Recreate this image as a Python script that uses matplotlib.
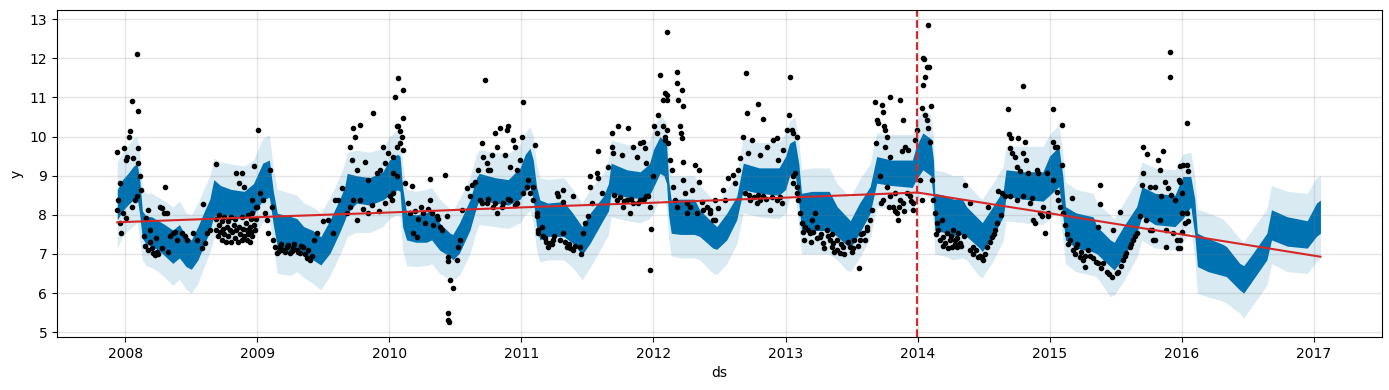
import numpy as np
import pandas as pd
import matplotlib
matplotlib.use("Agg")
import matplotlib.pyplot as plt
import matplotlib.dates as mdates

# forecast envelope (decimal years)
fc_t = [2007.94, 2007.98, 2008.02, 2008.06, 2008.09, 2008.11, 2008.13, 2008.16, 2008.20, 2008.25,
        2008.30, 2008.36, 2008.41, 2008.46, 2008.50, 2008.55, 2008.60, 2008.64, 2008.67, 2008.72,
        2008.80, 2008.90, 2008.97, 2009.04, 2009.09, 2009.12, 2009.15, 2009.25, 2009.30, 2009.35,
        2009.42, 2009.48, 2009.55, 2009.62, 2009.66, 2009.68, 2009.75, 2009.85, 2009.95, 2010.00,
        2010.06, 2010.08, 2010.10, 2010.13, 2010.20, 2010.28, 2010.32, 2010.38, 2010.46, 2010.48,
        2010.53, 2010.61, 2010.66, 2010.68, 2010.80, 2010.90, 2010.99, 2011.03, 2011.065, 2011.09,
        2011.115, 2011.14, 2011.20, 2011.32, 2011.39, 2011.46, 2011.52, 2011.62, 2011.66, 2011.68,
        2011.80, 2011.90, 2011.97, 2012.00, 2012.05, 2012.08, 2012.10, 2012.115, 2012.135, 2012.20,
        2012.31, 2012.35, 2012.45, 2012.48, 2012.555, 2012.63, 2012.68, 2012.80, 2012.95, 2013.00,
        2013.03, 2013.07, 2013.10, 2013.12, 2013.20, 2013.33, 2013.39, 2013.46, 2013.49, 2013.56,
        2013.64, 2013.69, 2013.80, 2013.96, 2013.99, 2014.04, 2014.10, 2014.12, 2014.13, 2014.20,
        2014.27, 2014.34, 2014.37, 2014.47, 2014.49, 2014.57, 2014.65, 2014.67, 2014.80, 2014.95,
        2015.00, 2015.07, 2015.10, 2015.12, 2015.20, 2015.33, 2015.36, 2015.46, 2015.49, 2015.56,
        2015.66, 2015.70, 2015.80, 2015.95, 2016.01, 2016.07, 2016.10, 2016.12, 2016.20, 2016.31,
        2016.34, 2016.44, 2016.47, 2016.54, 2016.645, 2016.68, 2016.80, 2016.95, 2017.02, 2017.05]
yhat_lo = [7.87, 8.10, 8.25, 8.38, 8.45, 8.00, 7.40, 7.25, 7.20, 7.10,
           6.95, 6.76, 6.90, 6.68, 6.61, 6.85, 7.25, 7.60, 7.96, 8.00,
           7.95, 7.90, 8.00, 8.38, 8.45, 7.75, 7.19, 7.05, 7.15, 7.02,
           6.85, 6.72, 7.02, 7.53, 7.85, 8.04, 8.30, 8.25, 8.38, 8.50,
           8.64, 8.60, 7.70, 7.36, 7.30, 7.30, 7.36, 7.10, 6.93, 6.85,
           7.02, 7.61, 8.20, 8.38, 8.30, 8.25, 8.40, 8.60, 8.72, 8.40,
           7.70, 7.36, 7.45, 7.45, 7.27, 6.98, 7.27, 7.87, 8.10, 8.55,
           8.45, 8.42, 8.50, 8.70, 9.06, 9.00, 8.80, 8.00, 7.53, 7.50,
           7.50, 7.45, 7.15, 7.12, 7.36, 7.87, 8.64, 8.55, 8.50, 8.65,
           9.00, 9.10, 8.30, 7.61, 7.60, 7.60, 7.45, 7.23, 7.15, 7.53,
           8.04, 8.81, 8.75, 8.70, 8.90, 9.15, 9.00, 8.40, 7.61, 7.55,
           7.45, 7.50, 7.45, 7.15, 7.06, 7.45, 7.96, 8.47, 8.40, 8.35,
           8.50, 8.72, 8.00, 7.36, 7.15, 7.05, 7.00, 6.68, 6.59, 6.90,
           7.53, 7.96, 7.75, 7.70, 7.90, 8.20, 7.50, 6.68, 6.55, 6.45,
           6.42, 6.08, 6.00, 6.34, 6.85, 7.36, 7.20, 7.15, 7.45, 7.53]
yhat_hi = [8.64, 8.90, 9.05, 9.23, 9.32, 8.90, 8.10, 7.96, 7.95, 7.85,
           7.75, 7.61, 7.75, 7.44, 7.36, 7.70, 8.10, 8.40, 8.90, 8.75,
           8.65, 8.60, 8.80, 9.32, 9.40, 8.60, 8.04, 7.96, 7.90, 7.70,
           7.60, 7.44, 7.87, 8.38, 8.70, 9.06, 9.00, 8.95, 9.10, 9.40,
           9.55, 9.50, 8.70, 8.04, 8.00, 8.05, 8.13, 7.79, 7.53, 7.50,
           7.79, 8.38, 8.95, 9.06, 8.95, 8.90, 9.20, 9.55, 9.70, 9.40,
           8.72, 8.38, 8.30, 8.34, 8.04, 7.70, 8.04, 8.47, 8.80, 9.32,
           9.15, 9.10, 9.30, 9.66, 10.00, 9.90, 9.80, 8.90, 8.38, 8.40,
           8.40, 8.13, 7.79, 7.70, 8.04, 8.47, 9.32, 9.20, 9.20, 9.50,
           9.83, 9.91, 9.30, 8.55, 8.60, 8.60, 8.21, 7.96, 7.85, 8.30,
           8.72, 9.49, 9.40, 9.40, 9.75, 10.09, 9.95, 9.40, 8.55, 8.50,
           8.40, 8.40, 8.21, 7.87, 7.80, 8.21, 8.64, 9.15, 9.10, 9.10,
           9.50, 9.74, 9.00, 8.21, 8.05, 7.95, 7.70, 7.36, 7.30, 7.70,
           8.21, 8.72, 8.55, 8.50, 8.98, 8.98, 8.40, 7.53, 7.40, 7.25,
           7.19, 6.76, 6.70, 7.02, 7.53, 8.13, 7.95, 7.85, 8.30, 8.38]
band_lo = [7.15, 7.45, 7.60, 7.70, 7.80, 7.35, 6.85, 6.70, 6.65, 6.55,
           6.40, 6.20, 6.35, 6.10, 6.00, 6.25, 6.70, 7.05, 7.40, 7.40,
           7.35, 7.30, 7.40, 7.80, 7.85, 7.20, 6.50, 6.45, 6.55, 6.40,
           6.25, 6.08, 6.45, 6.95, 7.25, 7.45, 7.55, 7.55, 7.70, 7.90,
           8.00, 7.95, 7.10, 6.70, 6.68, 6.70, 6.75, 6.50, 6.35, 6.34,
           6.45, 7.00, 7.60, 7.75, 7.70, 7.65, 7.80, 8.00, 8.10, 7.80,
           7.10, 6.80, 6.85, 6.85, 6.65, 6.34, 6.65, 7.25, 7.50, 7.95,
           7.85, 7.80, 7.90, 8.05, 8.40, 8.35, 8.20, 7.40, 6.95, 6.90,
           6.90, 6.85, 6.51, 6.48, 6.75, 7.25, 8.05, 7.95, 7.90, 8.05,
           8.40, 8.50, 7.70, 7.00, 7.00, 7.00, 6.85, 6.59, 6.55, 6.90,
           7.40, 8.20, 8.15, 8.10, 8.30, 8.55, 8.40, 7.80, 7.00, 6.95,
           6.85, 6.90, 6.85, 6.42, 6.40, 6.80, 7.35, 7.85, 7.80, 7.75,
           7.90, 8.10, 7.40, 6.75, 6.55, 6.45, 6.40, 5.91, 5.95, 6.30,
           6.90, 7.35, 7.15, 7.10, 7.30, 7.60, 6.90, 6.00, 5.90, 5.80,
           5.74, 5.49, 5.36, 5.70, 6.20, 6.75, 6.55, 6.50, 6.80, 6.90]
band_hi = [9.36, 9.60, 9.75, 9.96, 10.00, 9.55, 8.70, 8.55, 8.55, 8.45,
           8.35, 8.20, 8.35, 8.05, 8.00, 8.30, 8.70, 9.00, 9.45, 9.35,
           9.30, 9.25, 9.40, 9.95, 10.05, 9.20, 8.65, 8.55, 8.50, 8.30,
           8.20, 8.05, 8.45, 8.95, 9.30, 9.60, 9.65, 9.60, 9.70, 10.00,
           10.17, 10.10, 9.30, 8.65, 8.60, 8.65, 8.70, 8.40, 8.15, 8.10,
           8.40, 8.95, 9.55, 9.66, 9.60, 9.55, 9.80, 10.10, 10.25, 10.00,
           9.30, 8.95, 8.90, 8.95, 8.65, 8.30, 8.65, 9.05, 9.40, 9.91,
           9.80, 9.75, 9.90, 10.20, 10.55, 10.45, 10.35, 9.50, 9.00, 9.00,
           9.00, 8.75, 8.40, 8.30, 8.65, 9.05, 9.95, 9.85, 9.85, 10.10,
           10.40, 10.50, 9.90, 9.15, 9.20, 9.20, 8.80, 8.55, 8.45, 8.90,
           9.30, 10.10, 10.05, 10.05, 10.35, 10.70, 10.55, 10.00, 9.15, 9.10,
           9.00, 9.00, 8.80, 8.45, 8.40, 8.80, 9.25, 9.75, 9.75, 9.75,
           10.05, 10.30, 9.60, 8.85, 8.65, 8.55, 8.30, 8.00, 7.90, 8.30,
           8.85, 9.35, 9.20, 9.15, 9.55, 9.60, 9.00, 8.15, 8.05, 7.90,
           7.80, 7.40, 7.30, 7.65, 8.15, 8.75, 8.60, 8.55, 8.95, 9.00]

# piecewise trend
trend_t = [2007.94, 2009.0, 2010.0, 2011.0, 2012.0, 2013.0, 2014.0, 2015.0, 2016.0, 2017.05]
trend_y = [7.81, 7.94, 8.06, 8.19, 8.31, 8.44, 8.57, 8.04, 7.50, 6.93]
changepoint = "2013-12-30"

# visible observations (decimal year, value)
observed = [
    # 2008
    (2007.935, 9.60), (2007.96, 8.82), (2007.99, 9.70), (2008.005, 9.40), (2008.015, 9.49),
    (2008.03, 10.0), (2008.035, 10.14), (2008.053, 10.91), (2008.06, 9.45), (2008.09, 12.10),
    (2008.10, 10.65), (2008.094, 9.70), (2008.10, 9.32), (2008.11, 8.98), (2008.117, 8.64),
    (2007.967, 7.53), (2007.96, 7.79), (2008.01, 7.91), (2008.05, 8.21), (2008.073, 8.38),
    (2008.086, 8.47), (2007.94, 8.13), (2007.947, 8.38), (2007.985, 8.04),
    (2008.16, 7.91), (2008.174, 8.13), (2008.187, 7.62), (2008.20, 7.15), (2008.21, 7.02),
    (2008.225, 6.98), (2008.24, 7.06), (2008.263, 8.21), (2008.276, 8.17), (2008.29, 8.04),
    (2008.30, 8.71), (2008.313, 8.04), (2008.326, 7.06), (2008.363, 7.53), (2008.39, 7.36),
    (2008.427, 7.53), (2008.465, 7.36), (2008.515, 7.53), (2008.54, 7.36), (2008.58, 7.15),
    (2008.59, 8.28), (2008.60, 7.27), (2008.616, 7.53), (2008.64, 7.62), (2008.69, 9.30),
    (2008.14, 7.45), (2008.15, 7.20), (2008.17, 7.10), (2008.19, 7.30), (2008.23, 7.40),
    (2008.25, 7.00), (2008.28, 7.15), (2008.34, 7.45), (2008.38, 7.55), (2008.45, 7.45),
    (2008.69, 7.62), (2008.69, 7.90), (2008.70, 7.45), (2008.71, 7.75), (2008.71, 8.00),
    (2008.72, 7.55), (2008.73, 7.35), (2008.73, 7.85), (2008.74, 7.65), (2008.75, 7.50),
    (2008.75, 7.95), (2008.76, 7.30), (2008.77, 7.70), (2008.78, 7.45), (2008.78, 7.85),
    (2008.79, 7.60), (2008.80, 7.30), (2008.80, 7.95), (2008.81, 7.55), (2008.82, 7.75),
    (2008.83, 7.40), (2008.83, 7.90), (2008.84, 7.60), (2008.84, 9.06), (2008.85, 7.30),
    (2008.86, 7.70), (2008.86, 8.82), (2008.87, 7.50), (2008.88, 7.35), (2008.88, 7.95),
    (2008.88, 9.06), (2008.89, 7.65), (2008.90, 7.45), (2008.90, 8.72), (2008.91, 7.80),
    (2008.92, 7.35), (2008.92, 7.60), (2008.93, 7.50), (2008.93, 8.00), (2008.94, 7.70),
    (2008.94, 7.30), (2008.95, 7.55), (2008.95, 7.90), (2008.96, 7.45), (2008.97, 7.75),
    (2008.97, 9.25), (2008.98, 7.60), (2008.99, 7.90), (2008.99, 8.20),
    # 2009
    (2009.007, 10.17), (2008.957, 8.38), (2008.957, 8.04), (2008.995, 8.21), (2009.02, 8.55),
    (2009.045, 8.38), (2009.058, 8.04), (2009.071, 7.87), (2009.083, 7.53), (2009.096, 9.15),
    (2009.109, 8.21), (2009.121, 7.36), (2009.134, 7.19), (2009.147, 7.02), (2009.171, 7.19),
    (2009.197, 7.10), (2009.222, 7.19), (2009.247, 7.02), (2009.272, 7.15), (2009.298, 7.10),
    (2009.323, 7.02), (2009.348, 7.19), (2009.374, 6.89), (2009.399, 6.85), (2009.449, 7.53),
    (2009.16, 7.08), (2009.18, 7.25), (2009.21, 7.05), (2009.23, 7.22), (2009.26, 7.08),
    (2009.28, 7.25), (2009.31, 7.05), (2009.33, 7.20), (2009.36, 7.00), (2009.38, 7.10),
    (2009.41, 6.95), (2009.43, 7.35),
    (2009.499, 7.83), (2009.537, 7.87), (2009.575, 7.53), (2009.588, 8.38), (2009.613, 8.38),
    (2009.639, 8.68), (2009.677, 8.04), (2009.702, 9.74), (2009.727, 10.21), (2009.739, 10.0),
    (2009.777, 10.30), (2009.714, 9.40), (2009.752, 9.15), (2009.815, 9.36), (2009.84, 8.89),
    (2009.878, 10.60), (2009.904, 9.06), (2009.929, 9.15), (2009.954, 9.74), (2009.967, 9.32),
    (2009.992, 9.57), (2010.005, 8.47), (2010.03, 9.06), (2010.055, 10.26),
    (2009.702, 8.21), (2009.752, 7.87), (2009.84, 8.04), (2009.777, 8.38), (2009.727, 8.38),
    (2009.80, 8.15), (2009.87, 8.25), (2009.92, 8.10), (2009.97, 8.30),
    # 2010
    (2010.067, 11.49), (2010.042, 11.02), (2010.105, 11.19), (2010.105, 10.47), (2010.067, 10.26),
    (2010.080, 10.13), (2010.093, 10.0), (2010.080, 9.83), (2010.055, 9.74), (2010.105, 9.66),
    (2010.030, 9.49), (2010.055, 8.98), (2010.118, 8.81), (2010.030, 8.55), (2010.017, 8.38),
    (2010.143, 8.30), (2010.169, 8.74), (2010.156, 8.04), (2010.181, 7.53), (2010.207, 7.44),
    (2010.19, 8.10), (2010.22, 7.90), (2010.24, 8.20), (2010.27, 7.80), (2010.29, 8.15),
    (2010.33, 7.75), (2010.37, 7.90), (2010.40, 7.60),
    (2010.257, 8.04), (2010.307, 8.91), (2010.307, 8.38), (2010.320, 8.04), (2010.358, 7.96),
    (2010.383, 7.70), (2010.421, 9.02), (2010.434, 7.96), (2010.446, 6.93), (2010.446, 6.81),
    (2010.459, 6.34), (2010.484, 6.12), (2010.446, 5.49), (2010.446, 5.32), (2010.454, 5.27),
    (2010.510, 6.85), (2010.522, 7.19), (2010.535, 7.36), (2010.547, 8.13), (2010.585, 8.68),
    (2010.610, 8.47), (2010.623, 8.76), (2010.648, 8.85), (2010.673, 9.15), (2010.699, 9.83),
    (2010.711, 9.49), (2010.724, 11.45), (2010.737, 9.32), (2010.749, 9.15), (2010.762, 9.15),
    (2010.775, 9.53), (2010.800, 10.09), (2010.813, 9.74), (2010.838, 10.21), (2010.875, 9.53),
    (2010.888, 10.17), (2010.900, 10.26), (2010.913, 9.23), (2010.938, 9.91), (2010.951, 9.74),
    (2010.964, 9.15), (2010.989, 9.40), (2011.002, 10.0), (2011.014, 10.89), (2011.040, 8.72),
    (2011.052, 8.89), (2011.065, 8.55), (2011.090, 8.38), (2011.103, 9.79), (2011.116, 7.96),
    (2011.128, 7.62), (2010.686, 8.38), (2010.737, 8.30), (2010.787, 8.21), (2010.813, 8.04),
    (2010.863, 8.30), (2010.913, 8.38), (2010.964, 8.30), (2011.014, 8.55),
    (2010.70, 8.30), (2010.75, 8.40), (2010.80, 8.30), (2010.85, 8.20), (2010.90, 8.40),
    (2010.95, 8.25),
    # 2011
    (2011.090, 8.72), (2011.116, 8.04), (2011.128, 7.53), (2011.153, 7.70), (2011.178, 7.40),
    (2011.203, 7.19), (2011.216, 7.27), (2011.241, 7.36), (2011.267, 8.55), (2011.279, 8.47),
    (2011.317, 8.64), (2011.317, 8.34), (2011.317, 7.53), (2011.342, 7.19), (2011.368, 7.15),
    (2011.393, 8.47), (2011.393, 7.10), (2011.443, 7.19), (2011.468, 7.53), (2011.481, 7.79),
    (2011.16, 7.45), (2011.19, 7.30), (2011.23, 7.25), (2011.25, 7.45), (2011.29, 7.35),
    (2011.33, 7.30), (2011.36, 7.25), (2011.41, 7.20), (2011.45, 7.00),
    (2011.506, 7.96), (2011.519, 8.98), (2011.519, 8.72), (2011.532, 8.30), (2011.570, 9.06),
    (2011.582, 8.94), (2011.582, 9.62), (2011.608, 8.55), (2011.658, 9.23), (2011.683, 10.09),
    (2011.683, 9.74), (2011.696, 9.57), (2011.733, 10.26), (2011.759, 9.53), (2011.809, 10.21),
    (2011.847, 9.74), (2011.873, 9.49), (2011.898, 9.83), (2011.923, 9.87), (2011.936, 9.70),
    (2011.948, 9.32), (2011.961, 8.47), (2011.974, 8.21), (2011.986, 7.63), (2011.974, 6.59),
    (2011.999, 8.98), (2012.004, 10.26), (2012.024, 10.09), (2012.036, 10.55), (2012.049, 11.58),
    (2012.074, 10.94), (2012.087, 11.11), (2012.100, 12.67), (2012.070, 10.26), (2012.087, 10.0),
    (2011.721, 8.38), (2011.771, 8.21), (2011.822, 8.04), (2011.847, 8.30), (2011.898, 8.38),
    (2011.948, 8.47), (2011.797, 8.38), (2011.70, 8.50), (2011.75, 8.45), (2011.78, 8.35),
    (2011.83, 8.40), (2011.88, 8.30), (2011.93, 8.40),
    # 2012
    (2012.100, 11.06), (2012.100, 10.94), (2012.100, 10.17), (2012.087, 9.91), (2012.112, 9.83),
    (2012.125, 9.40), (2012.138, 9.15), (2012.150, 8.72), (2012.163, 8.38), (2012.176, 8.21),
    (2012.180, 11.66), (2012.180, 11.36), (2012.188, 10.94), (2012.214, 11.19), (2012.221, 10.77),
    (2012.201, 10.26), (2012.206, 10.09), (2012.214, 9.96), (2012.226, 9.36), (2012.226, 8.89),
    (2012.239, 8.55), (2012.252, 8.30), (2012.252, 8.04), (2012.289, 8.64), (2012.314, 9.28),
    (2012.347, 9.15), (2012.347, 8.85), (2012.365, 8.34), (2012.403, 8.21), (2012.428, 8.13),
    (2012.466, 8.38), (2012.466, 7.87), (2012.491, 8.17), (2012.529, 8.64), (2012.541, 8.38),
    (2012.566, 8.94), (2012.604, 9.02), (2012.617, 8.81), (2012.642, 9.15), (2012.655, 9.45),
    (2012.680, 10.0), (2012.700, 11.62), (2012.710, 10.60), (2012.718, 9.57), (2012.744, 9.91),
    (2012.794, 10.83), (2012.807, 9.53), (2012.827, 10.44), (2012.857, 9.74), (2012.907, 9.91),
    (2012.933, 9.96), (2012.945, 9.40), (2012.983, 9.66), (2013.009, 10.17), (2013.034, 11.52),
    (2013.028, 10.55), (2012.693, 8.55), (2012.731, 8.38), (2012.781, 8.30), (2012.807, 8.38),
    (2012.831, 8.47), (2012.882, 8.13), (2012.933, 8.38), (2012.971, 8.30), (2013.059, 8.98),
    (2013.084, 8.72), (2013.097, 8.38), (2013.109, 8.04), (2012.276, 8.21), (2012.327, 8.04),
    (2012.377, 8.13), (2012.428, 8.04), (2012.453, 7.87), (2012.72, 8.50), (2012.76, 8.45),
    (2012.79, 8.50), (2012.85, 8.40), (2012.90, 8.45), (2012.96, 8.45),
    # 2013
    (2013.047, 10.17), (2013.059, 10.09), (2013.084, 10.0), (2013.072, 9.06), (2013.059, 8.81),
    (2013.084, 8.55), (2013.122, 7.79), (2013.147, 7.70), (2013.185, 7.53), (2013.197, 7.87),
    (2013.223, 8.04), (2013.236, 7.70), (2013.261, 7.44), (2013.286, 7.27), (2013.312, 7.62),
    (2013.337, 7.36), (2013.349, 7.19), (2013.362, 7.27), (2013.387, 7.10), (2013.412, 7.02),
    (2013.437, 7.19), (2013.488, 7.19), (2013.513, 7.15), (2013.558, 6.64), (2013.564, 7.36),
    (2013.13, 7.55), (2013.14, 7.35), (2013.17, 7.60), (2013.19, 7.30), (2013.21, 7.55),
    (2013.24, 7.40), (2013.27, 7.50), (2013.29, 7.15), (2013.32, 7.45), (2013.35, 7.50),
    (2013.37, 7.05), (2013.39, 7.35), (2013.42, 7.25), (2013.44, 7.00), (2013.47, 7.30),
    (2013.50, 7.05), (2013.52, 7.35), (2013.55, 7.20), (2013.57, 7.50), (2013.60, 7.35),
    (2013.62, 7.70),
    (2013.589, 7.53), (2013.614, 7.62), (2013.639, 7.87), (2013.651, 8.13), (2013.677, 10.89),
    (2013.694, 10.43), (2013.702, 10.34), (2013.685, 9.83), (2013.715, 8.98), (2013.728, 10.81),
    (2013.736, 10.64), (2013.746, 10.26), (2013.753, 10.17), (2013.766, 10.0), (2013.753, 9.74),
    (2013.791, 11.02), (2013.791, 9.49), (2013.829, 8.55), (2013.842, 8.04), (2013.854, 7.87),
    (2013.867, 10.94), (2013.880, 9.62), (2013.892, 10.43), (2013.905, 9.74), (2013.930, 9.66),
    (2013.943, 8.47), (2013.968, 8.30), (2013.968, 8.13), (2013.980, 9.91), (2013.993, 10.17),
    (2014.031, 10.72), (2014.043, 12.0), (2014.039, 11.32), (2014.056, 11.53), (2014.069, 11.79),
    (2014.081, 12.85), (2013.740, 8.38), (2013.791, 8.47), (2013.816, 8.21), (2013.867, 8.38),
    (2013.892, 8.30), (2013.918, 8.55), (2013.766, 8.72), (2013.72, 8.30), (2013.78, 8.20),
    (2013.83, 8.10), (2013.86, 8.20), (2013.90, 8.10), (2013.95, 8.35),
    # 2014
    (2014.047, 11.98), (2014.089, 11.77), (2014.099, 10.77), (2014.056, 10.55), (2014.069, 10.43),
    (2014.081, 10.21), (2014.094, 9.87), (2014.018, 8.89), (2014.031, 8.38), (2014.107, 8.89),
    (2014.119, 8.38), (2014.132, 8.04), (2014.145, 7.79), (2014.157, 7.62), (2014.182, 7.87),
    (2014.195, 7.44), (2014.208, 7.27), (2014.220, 7.53), (2014.245, 7.36), (2014.258, 7.19),
    (2014.271, 7.62), (2014.283, 7.36), (2014.296, 7.19), (2014.309, 7.53), (2014.321, 7.27),
    (2014.14, 7.50), (2014.17, 7.35), (2014.19, 7.20), (2014.23, 7.15), (2014.25, 7.45),
    (2014.28, 7.25), (2014.30, 7.40), (2014.33, 7.20), (2014.35, 7.45), (2014.42, 7.00),
    (2014.44, 7.10), (2014.47, 6.95), (2014.51, 7.00), (2014.55, 7.30), (2014.58, 7.50),
    (2014.60, 7.80), (2014.63, 8.00),
    (2014.359, 8.76), (2014.397, 8.30), (2014.397, 7.10), (2014.422, 7.19), (2014.460, 6.93),
    (2014.485, 6.89), (2014.498, 6.85), (2014.523, 7.19), (2014.535, 8.21), (2014.561, 7.44),
    (2014.586, 7.62), (2014.611, 8.60), (2014.637, 8.55), (2014.662, 8.47), (2014.687, 10.70),
    (2014.694, 10.07), (2014.705, 9.96), (2014.700, 9.70), (2014.713, 9.57), (2014.738, 9.49),
    (2014.751, 9.23), (2014.763, 9.96), (2014.776, 9.11), (2014.801, 11.28), (2014.801, 9.57),
    (2014.814, 9.87), (2014.822, 9.40), (2014.838, 9.06), (2014.864, 8.42), (2014.877, 7.87),
    (2014.890, 7.79), (2014.902, 9.15), (2014.915, 9.06), (2014.927, 8.04), (2014.940, 7.96),
    (2014.965, 7.53), (2014.978, 9.06), (2014.990, 7.96), (2015.028, 10.70), (2015.028, 9.87),
    (2015.054, 9.74), (2014.700, 8.47), (2014.751, 8.38), (2014.801, 8.47), (2014.852, 8.30),
    (2014.952, 8.21), (2014.990, 8.04),
    # 2015
    (2015.091, 10.30), (2015.041, 9.74), (2015.091, 9.28), (2015.028, 8.89), (2015.054, 8.59),
    (2015.066, 8.38), (2015.079, 8.21), (2015.103, 8.04), (2015.116, 7.74), (2015.154, 7.36),
    (2015.167, 8.42), (2015.179, 7.10), (2015.204, 7.19), (2015.229, 6.93), (2015.255, 6.85),
    (2015.268, 6.68), (2015.293, 7.10), (2015.330, 6.89), (2015.368, 6.76), (2015.381, 8.76),
    (2015.13, 7.50), (2015.14, 7.25), (2015.19, 7.00), (2015.21, 7.25), (2015.24, 7.05),
    (2015.27, 6.95), (2015.31, 6.95), (2015.35, 6.80), (2015.39, 6.65), (2015.45, 6.50),
    (2015.52, 6.55), (2015.54, 6.70), (2015.57, 6.95), (2015.62, 7.25), (2015.65, 7.45),
    (2015.381, 8.28), (2015.368, 7.70), (2015.406, 6.76), (2015.432, 6.55), (2015.470, 6.42),
    (2015.482, 7.62), (2015.508, 6.51), (2015.533, 8.08), (2015.558, 6.85), (2015.583, 7.02),
    (2015.608, 7.19), (2015.634, 7.36), (2015.659, 7.53), (2015.684, 7.96), (2015.697, 8.76),
    (2015.705, 9.06), (2015.709, 9.74), (2015.739, 9.55), (2015.760, 8.72), (2015.773, 7.62),
    (2015.785, 7.36), (2015.798, 8.72), (2015.823, 9.40), (2015.836, 9.15), (2015.848, 8.47),
    (2015.861, 9.62), (2015.874, 8.85), (2015.886, 7.19), (2015.899, 8.68), (2015.912, 12.15),
    (2015.912, 11.52), (2015.924, 8.51), (2015.949, 8.38), (2015.962, 7.36), (2015.974, 7.15),
    (2015.982, 8.89), (2015.992, 9.26), (2016.013, 9.28), (2016.038, 10.34), (2016.038, 9.28),
    (2016.048, 9.11), (2015.730, 7.87), (2015.760, 7.62), (2015.798, 7.36), (2015.836, 7.87),
    (2015.886, 7.62), (2015.937, 7.53),
    # 2016
    (2015.987, 8.85), (2016.000, 8.55), (2016.000, 8.04), (2016.038, 8.04), (2016.025, 7.79),
    (2016.048, 7.83), (2016.000, 7.57), (2015.987, 7.36), (2015.987, 7.15),
]


def to_date(t):
    year = int(np.floor(t))
    start = pd.Timestamp(year=year, month=1, day=1)
    n_days = (pd.Timestamp(year=year + 1, month=1, day=1) - start).days
    return start + pd.Timedelta(days=(t - year) * n_days)


fc_ds = [to_date(t) for t in fc_t]
trend_ds = [to_date(t) for t in trend_t]
obs_ds = [to_date(t) for t, _ in observed]
obs_y = [y for _, y in observed]

fig = plt.figure(figsize=(13.89, 3.9), dpi=100)
ax = fig.add_subplot(111)
fig.subplots_adjust(left=0.041, right=0.995, top=0.974, bottom=0.136)

ax.plot(obs_ds, obs_y, 'k.')
ax.fill_between(fc_ds, yhat_lo, yhat_hi, color='#0072B2', lw=0)
ax.fill_between(fc_ds, band_lo, band_hi, color='#0072B2', alpha=0.15, lw=0)
ax.plot(trend_ds, trend_y, c='#d62728')
ax.axvline(pd.Timestamp(changepoint), c='#d62728', ls='--')

ax.grid(True, which='major', c='gray', ls='-', lw=1, alpha=0.2)
ax.xaxis.set_major_locator(mdates.YearLocator())
ax.xaxis.set_major_formatter(mdates.DateFormatter('%Y'))
ax.set_xlim(to_date(2007.483), to_date(2017.517))
ax.set_yticks(range(5, 14))
ax.set_ylim(4.88, 13.23)
ax.set_xlabel('ds')
ax.set_ylabel('y')

fig.savefig('out.png', dpi=100)
